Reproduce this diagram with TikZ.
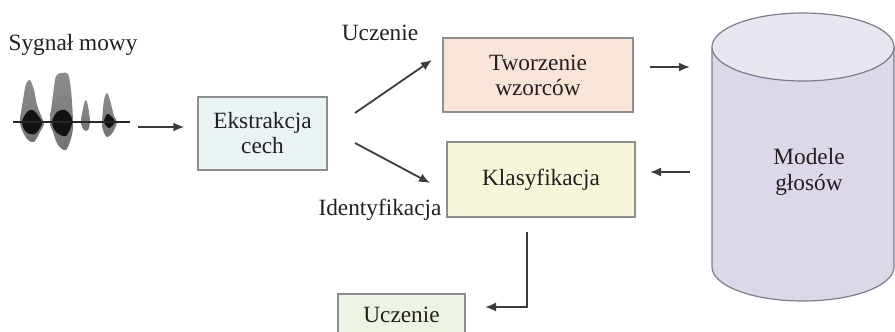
\documentclass[tikz,border=0pt]{standalone}
\usepackage{fontspec}
\setmainfont{Liberation Serif}
\usetikzlibrary{arrows.meta}

\definecolor{txt}{HTML}{231F20}
\definecolor{boxline}{HTML}{8E8E8E}
\definecolor{arrcol}{HTML}{3C3C3C}
\definecolor{fEks}{HTML}{EAF4F5}
\definecolor{fTw}{HTML}{F9E5D8}
\definecolor{fKl}{HTML}{F8F6DA}
\definecolor{fUcz}{HTML}{EEF4E4}
\definecolor{cylbody}{HTML}{DDD7EA}
\definecolor{cyltop}{HTML}{E9E6F1}
\definecolor{cylline}{HTML}{7F7B8C}

\begin{document}
\begin{tikzpicture}[x=1pt,y=-1pt,>={Latex[length=11pt,width=9pt]},
        blk/.style={draw=boxline,line width=1.5pt,text=txt,align=center,inner sep=0pt,
                    font=\fontsize{23.3}{25}\selectfont},
        lbl/.style={text=txt,align=center,inner sep=0pt,font=\fontsize{23.3}{26}\selectfont},
        blob/.style={top color=black!45,middle color=black!95,bottom color=black!55,draw=none},
        core/.style={fill=black,opacity=.85},
        link/.style={->,draw=arrcol,line width=1.8pt}]
        \useasboundingbox (0,0) rectangle (895,332);

        % sygnal
        \node[lbl] (sig label) at (73,45) {Sygnał mowy};
        \shade[blob] plot[smooth cycle] coordinates {(20,122) (23,100) (26,84) (30,80) (34,90) (37,105) (42,118) (44,124) (40,132) (34,142) (28,140) (23,132)};
        \shade[blob] plot[smooth cycle] coordinates {(50,122) (53,95) (56,76) (62,73) (68,74) (71,90) (73,120) (72,135) (66,150) (58,145) (53,132)};
        \shade[blob] plot[smooth cycle] coordinates {(81,122) (84,104) (86,100) (88,106) (90,122) (88,130) (84,130)};
        \shade[blob] plot[smooth cycle] coordinates {(102,122) (104,100) (107,93) (110,100) (114,116) (117,122) (113,132) (107,137) (103,130)};
        \fill[core] plot[smooth cycle] coordinates {(22,122) (27,112) (33,110) (40,118) (42,124) (35,134) (26,132)};
        \fill[core] plot[smooth cycle] coordinates {(52,122) (57,112) (65,110) (71,116) (72,124) (66,136) (56,132)};
        \fill[core] plot[smooth cycle] coordinates {(104,122) (107,114) (111,116) (115,122) (109,128)};
        \draw[black!85,line width=2.5pt] (13,122) -- (130,122);

        % bloki
        \node[blk,fill=fEks,minimum width=129pt,minimum height=73pt] (ext) at (262.5,133.5) {Ekstrakcja\\cech};
        \node[blk,fill=fTw,minimum width=190pt,minimum height=74pt] (tw) at (538,75) {Tworzenie\\wzorców};
        \node[blk,fill=fKl,minimum width=188pt,minimum height=75pt] (kl) at (541,179.5) {Klasyfikacja};
        \node[blk,fill=fUcz,minimum width=127pt,minimum height=42pt,anchor=north] (ucz) at (401.5,293) {Uczenie};

        % baza
        \fill[cylbody] (712,47) -- (712,267) arc[start angle=180,end angle=0,x radius=91,y radius=34] -- (894,47) -- cycle;
        \draw[cylline,line width=1.2pt] (712,47) -- (712,267) arc[start angle=180,end angle=0,x radius=91,y radius=34] -- (894,47);
        \draw[cylline,line width=1.2pt,fill=cyltop] (803,47) ellipse[x radius=91,y radius=34];
        \node[lbl] (db) at (809,172) {Modele\\głosów};

        \node[lbl] (ucz label) at (380,33) {Uczenie};
        \node[lbl] (id label) at (380,210) {Identyfikacja};

        \coordinate (sig) at (138,127);
        \coordinate (u1) at (355,113);
        \coordinate (u2) at (432,60);
        \coordinate (i1) at (355,143);
        \coordinate (i2) at (430,183);
        \coordinate (t1) at (650,67);
        \coordinate (t2) at (690,67);
        \coordinate (m1) at (690,172);
        \coordinate (m2) at (650,172);
        \coordinate (k1) at (527,232);
        \coordinate (k2) at (485,307);

        \draw[link] (sig) -- (sig -| ext.west) [shorten >=13pt];
        \draw[link] (u1) -- (u2);
        \draw[link] (i1) -- (i2);
        \draw[link] (t1) -- (t2);
        \draw[link] (m1) -- (m2);
        \draw[link] (k1) |- (k2);
    \end{tikzpicture}
\end{document}
